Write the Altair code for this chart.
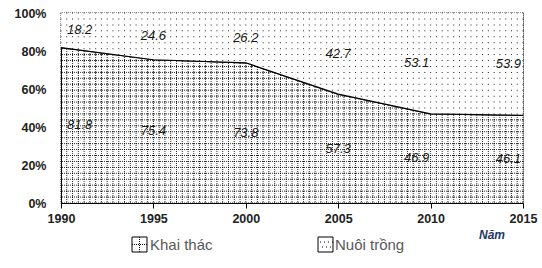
import altair as alt
import pandas as pd

# ---- chart data ----
years = [1990, 1995, 2000, 2005, 2010, 2015]
khai_thac = [81.8, 75.4, 73.8, 57.3, 46.9, 46.1]
nuoi_trong = [18.2, 24.6, 26.2, 42.7, 53.1, 53.9]
y_ticks = [0, 20, 40, 60, 80, 100]
legend_labels = ["Khai thác", "Nuôi trồng"]
x_title = "Năm"

df = pd.DataFrame({"year": years, "khai": khai_thac, "nuoi": nuoi_trong})
df["top"] = df["khai"] + df["nuoi"]

lbl = pd.DataFrame({
    "year": years + years,
    "ypos": [k + n / 2 for k, n in zip(khai_thac, nuoi_trong)] + [k / 2 for k in khai_thac],
    "txt": [f"{v:.1f}" for v in nuoi_trong] + [f"{v:.1f}" for v in khai_thac],
})

# ---- texture helpers (decorative fill pattern, in scale units) ----
ncol, nrow = 80, 32
gx = [1990 + 25 * i / ncol for i in range(ncol + 1)]
gy = [100 * j / nrow for j in range(nrow + 1)]
vgrid = pd.DataFrame({"x": gx})
hgrid = pd.DataFrame({"y": gy})
dots = pd.DataFrame([(x, y) for x in gx for y in gy], columns=["x", "y"])

FONT = "Liberation Sans"
xs = alt.Scale(domain=[1990, 2015], nice=False, zero=False)
ys = alt.Scale(domain=[0, 100], nice=False)

X_AX = alt.Axis(values=years, format="d", title=None, grid=False,
                labelFont=FONT, labelFontSize=12.5, labelFontWeight="bold",
                labelColor="#222", tickSize=5, tickColor="black",
                domainColor="black", labelPadding=4, labelFlush=False)
Y_AX = alt.Axis(values=y_ticks, labelExpr="datum.value + '%'", title=None,
                grid=False, ticks=False, labelFont=FONT, labelFontSize=12.5,
                labelFontWeight="bold", labelColor="#222", domainColor="black",
                labelPadding=15)


def X(f):
    return alt.X(f, scale=xs, axis=X_AX, title=None)


def Y(f):
    return alt.Y(f, scale=ys, axis=Y_AX, title=None)


grid_v = alt.Chart(vgrid).mark_rule(color="black", strokeWidth=1, strokeDash=[1, 1], opacity=0.8).encode(
    x=X("x:Q"))
grid_h = alt.Chart(hgrid).mark_rule(color="black", strokeWidth=1, strokeDash=[1, 1], opacity=0.8).encode(
    y=Y("y:Q"))

upper = alt.Chart(df).mark_area(color="white", opacity=1).encode(
    x=X("year:Q"), y=Y("khai:Q"), y2="top:Q")

dot_layer = alt.Chart(dots).mark_square(size=1, color="black", opacity=0.85).encode(
    x=X("x:Q"), y=Y("y:Q"))

line = alt.Chart(df).mark_line(color="black", strokeWidth=1.2).encode(
    x=X("year:Q"), y=Y("khai:Q"))


def labels(sel, **kw):
    return alt.Chart(lbl).transform_filter(
        alt.FieldOneOfPredicate(field="year", oneOf=sel)
    ).mark_text(font=FONT, fontSize=13, fontStyle="italic", color="#1a1a1a",
                baseline="middle", **kw).encode(
        x=X("year:Q"), y=Y("ypos:Q"), text="txt:N")


lab_mid = labels([1995, 2000, 2005], align="center")
lab_2010 = labels([2010], align="center", dx=-14)
lab_1990 = labels([1990], align="left", dx=6)
lab_2015 = labels([2015], align="right", dx=-2)

one = pd.DataFrame({"a": [0]})
title_txt = alt.Chart(one).mark_text(text=x_title, font=FONT, fontSize=12, fontWeight="bold",
                                     fontStyle="italic", color="#1f3864", align="left",
                                     baseline="middle").encode(x=alt.value(418), y=alt.value(222))

# legend swatches
sw1 = alt.Chart(one).mark_rect(fill="white", stroke="black", strokeWidth=1).encode(
    x=alt.value(71), x2=alt.value(86), y=alt.value(224), y2=alt.value(239))
sw1v = alt.Chart(one).mark_rule(color="black", strokeDash=[1, 1]).encode(
    x=alt.value(78.5), y=alt.value(224), y2=alt.value(239))
sw1h = alt.Chart(one).mark_rule(color="black", strokeDash=[1, 1]).encode(
    x=alt.value(71), x2=alt.value(86), y=alt.value(231.5))
sw2 = alt.Chart(one).mark_rect(fill="white", stroke="black", strokeWidth=1).encode(
    x=alt.value(257), x2=alt.value(272), y=alt.value(224), y2=alt.value(239))
sw2a = alt.Chart(one).mark_rule(color="black", strokeDash=[1, 3]).encode(
    x=alt.value(259), x2=alt.value(272), y=alt.value(229))
sw2b = alt.Chart(one).mark_rule(color="black", strokeDash=[1, 3]).encode(
    x=alt.value(261), x2=alt.value(272), y=alt.value(234))
leg1 = alt.Chart(one).mark_text(text=legend_labels[0], font=FONT, fontSize=15, color="#595959",
                                align="left", baseline="middle").encode(x=alt.value(89), y=alt.value(232))
leg2 = alt.Chart(one).mark_text(text=legend_labels[1], font=FONT, fontSize=15, color="#595959",
                                align="left", baseline="middle").encode(x=alt.value(274), y=alt.value(232))

chart = alt.layer(
    line, grid_v, grid_h, upper, dot_layer, line,
    lab_mid, lab_2010, lab_1990, lab_2015,
    title_txt, sw1, sw1v, sw1h, sw2, sw2a, sw2b, leg1, leg2
).properties(
    width=462, height=190,
    padding={"left": 61, "top": 13, "right": 19, "bottom": 65},
    autosize=alt.AutoSizeParams(type="none"),
    background="white",
).configure_view(stroke="#a6a6a6", strokeWidth=1)

chart.save("out.html", embed_options={"renderer": "svg", "actions": False})
